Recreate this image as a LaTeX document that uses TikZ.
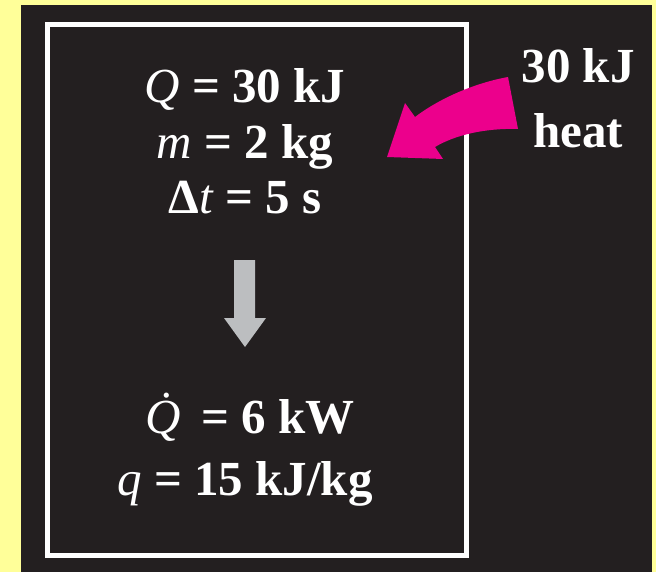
\documentclass[tikz,border=0pt]{standalone}
\usepackage{fontspec}
\setmainfont{Liberation Serif}
\definecolor{c1}{RGB}{255,255,153}
\definecolor{c2}{RGB}{35,31,32}
\definecolor{c3}{RGB}{236,0,140}
\definecolor{c4}{RGB}{188,190,192}
\tikzset{val/.style={text=white,font=\fontsize{24.5}{28}\selectfont\bfseries,anchor=base,inner sep=0pt}}
\newcommand{\var}[1]{{\mdseries\itshape #1}}

\begin{document}
\begin{tikzpicture}[x=0.5pt,y=-0.5pt]
    \useasboundingbox (0,0) rectangle (656,572);
    \fill[c1] (0,0) rectangle (656,572);
    \fill[c2] (21,5) rectangle (652,572);
    \draw[draw=white,line width=2.5pt] (47,25) rectangle (466,555); %system
    % given values
    \node[val] (Q) at (245,103) {\var{Q} = 30 kJ};
    \node[val] (m) at (245,158) {\var{m} = 2 kg};
    \node[val] (dt) at (245,213) {Δ\var{t} = 5 s};
    % gray arrow
    \fill[c4] (234,260) -- (255,260) -- (255,318) -- (266,318) -- (245,347)
        -- (224,318) -- (234,318) -- cycle;
    % results
    \node[val] (Qdot) at (250,433) {\var{\.{Q}}\, = 6 kW};
    \node[val] (q) at (245,495) {\var{q} = 15 kJ/kg};
    % heat input
    \fill[c3] (508,77) .. controls (475,83) and (440,98) .. (415,117) -- (405,103)
        -- (387,157) -- (443,159) -- (435,147) .. controls (455,135) and (485,128) .. (518,129) -- cycle;
    \node[val] (kJ) at (578,83) {30 kJ};
    \node[val] (heat) at (578,148) {heat};
\end{tikzpicture}
\end{document}
